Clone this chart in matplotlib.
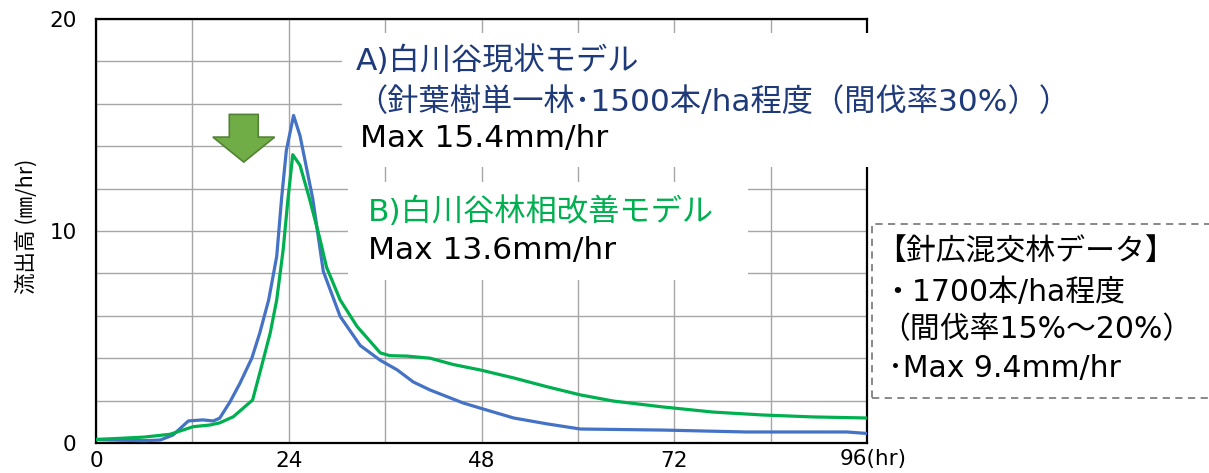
import matplotlib
matplotlib.use("Agg")
import matplotlib.pyplot as plt
from matplotlib.patches import Rectangle, FancyArrow

plt.rcParams['font.family'] = ['DejaVu Sans', 'Noto Sans CJK JP']

# ==============================
# データ
# ==============================
blue_t = [0, 3, 6, 8, 9.6, 11.5, 13.3, 14.6, 15.4, 16.7, 17.9, 19.4, 20.4, 21.5,
          22.5, 23.1, 23.7, 24.6, 25.4, 27.0, 28.3, 30.4, 32.9, 35.4, 37.5, 39.5,
          41.6, 45.7, 47.8, 52.0, 56.2, 60.3, 70.6, 81.0, 93.5, 96]
blue_v = [0.16, 0.13, 0.11, 0.14, 0.38, 1.04, 1.09, 1.04, 1.17, 1.95, 2.8, 4.0, 5.2, 6.75,
          8.8, 11.5, 13.8, 15.45, 14.5, 11.5, 8.1, 5.97, 4.6, 3.9, 3.45, 2.88,
          2.5, 1.89, 1.65, 1.18, 0.9, 0.66, 0.61, 0.52, 0.52, 0.45]

green_t = [0, 3, 6, 9.2, 12.1, 14.2, 15.4, 17.1, 19.5, 20.6, 21.7, 22.5, 23.3, 23.9,
           24.5, 25.4, 26.6, 27.9, 28.7, 30.4, 32.5, 35.4, 36.6, 38.7, 41.6, 44.5,
           47.8, 52, 56.2, 60.3, 64.4, 70.6, 76.8, 83.1, 89.3, 96]
green_v = [0.17, 0.22, 0.28, 0.41, 0.77, 0.85, 0.95, 1.24, 2.03, 3.6, 5.2, 6.75, 9.1, 11.5,
           13.6, 13.1, 11.5, 9.6, 8.3, 6.75, 5.5, 4.25, 4.12, 4.1, 4.0, 3.7,
           3.45, 3.07, 2.65, 2.27, 1.98, 1.7, 1.46, 1.32, 1.23, 1.18]

x_ticks = [0, 24, 48, 72]
x_labels = ["0", "24", "48", "72"]
y_ticks = [0, 10, 20]

text_a = ["A)白川谷現状モデル", "（針葉樹単一林･1500本/ha程度（間伐率30%））", "Max 15.4mm/hr"]
text_b = ["B)白川谷林相改善モデル", "Max 13.6mm/hr"]
text_c = ["【針広混交林データ】", "・1700本/ha程度", "（間伐率15%～20%）", "･Max 9.4mm/hr"]

# ==============================
# 図
# ==============================
W, H = 1209, 473
fig = plt.figure(figsize=(W / 100, H / 100), dpi=100)


def fx(px):
    return px / W


def fy(py):
    return 1 - py / H


ax = fig.add_axes([fx(96), fy(443), fx(867) - fx(96), fy(19) - fy(443)])

ax.plot(blue_t, blue_v, color="#4472C4", lw=2.3, zorder=3)
ax.plot(green_t, green_v, color="#00B050", lw=2.3, zorder=4)

ax.set_xlim(0, 96)
ax.set_ylim(0, 20)
ax.set_xticks(range(0, 97, 12), minor=True)
ax.set_yticks(range(0, 21, 2), minor=True)
ax.set_xticks(x_ticks)
ax.set_xticklabels(x_labels, fontsize=15.5)
ax.set_yticks(y_ticks)
ax.set_yticklabels([str(v) for v in y_ticks], fontsize=15.5)
ax.tick_params(which="both", length=0)
ax.tick_params(axis="x", pad=6)
ax.tick_params(axis="y", pad=14)
ax.grid(which="both", color="#a6a6a6", lw=1.0)
ax.set_axisbelow(True)
for s in ax.spines.values():
    s.set_linewidth(1.6)
    s.set_color("black")

ax.annotate("96(hr)", xy=(96, 0), xycoords=("data", "axes fraction"),
            xytext=(-27, -6), textcoords="offset pixels", va="top", ha="left",
            fontsize=15.5)

ax.set_ylabel("流出高 (㎜/hr)", fontsize=15.5, family=["Noto Sans CJK JP", "DejaVu Sans"])
ax.yaxis.set_label_coords(-0.076, 0.51)

# 矢印
ax.add_patch(FancyArrow(18.4, 15.5, 0, -2.25, width=3.6, head_width=7.7,
                        head_length=1.18, length_includes_head=True,
                        facecolor="#70AD47", edgecolor="#548235", lw=1.2, zorder=5))

# 白い背景
fig.patches.append(Rectangle((fx(342), fy(167)), fx(1100) - fx(342), fy(33) - fy(167),
                             transform=fig.transFigure, facecolor="white",
                             edgecolor="none", zorder=2))
fig.patches.append(Rectangle((fx(348), fy(280)), fx(748) - fx(348), fy(182) - fy(280),
                             transform=fig.transFigure, facecolor="white",
                             edgecolor="none", zorder=2))
fig.patches.append(Rectangle((fx(872), fy(398)), fx(1220) - fx(872), fy(224) - fy(398),
                             transform=fig.transFigure, facecolor="white",
                             edgecolor="#7f7f7f", lw=1.3, ls=(0, (4, 3)), zorder=2))

# テキスト
fs = 22.5
fig.text(fx(356), fy(61), text_a[0], color="#1F3A7A", fontsize=fs, va="center", zorder=6)
fig.text(fx(356), fy(102), text_a[1], color="#1F3A7A", fontsize=fs, va="center", zorder=6)
fig.text(fx(360), fy(138), text_a[2], color="black", fontsize=fs, va="center", zorder=6)
fig.text(fx(368), fy(212), text_b[0], color="#00B050", fontsize=fs, va="center", zorder=6)
fig.text(fx(368), fy(251), text_b[1], color="black", fontsize=fs, va="center", zorder=6)

fc = 21.5
fig.text(fx(876), fy(252), text_c[0], color="black", fontsize=fc, va="center", zorder=6)
fig.text(fx(882), fy(292), text_c[1], color="black", fontsize=fc, va="center", zorder=6)
fig.text(fx(880), fy(330), text_c[2], color="black", fontsize=fc, va="center", zorder=6)
fig.text(fx(888), fy(368), text_c[3], color="black", fontsize=fc, va="center", zorder=6)

fig.savefig("out.png", dpi=100)
